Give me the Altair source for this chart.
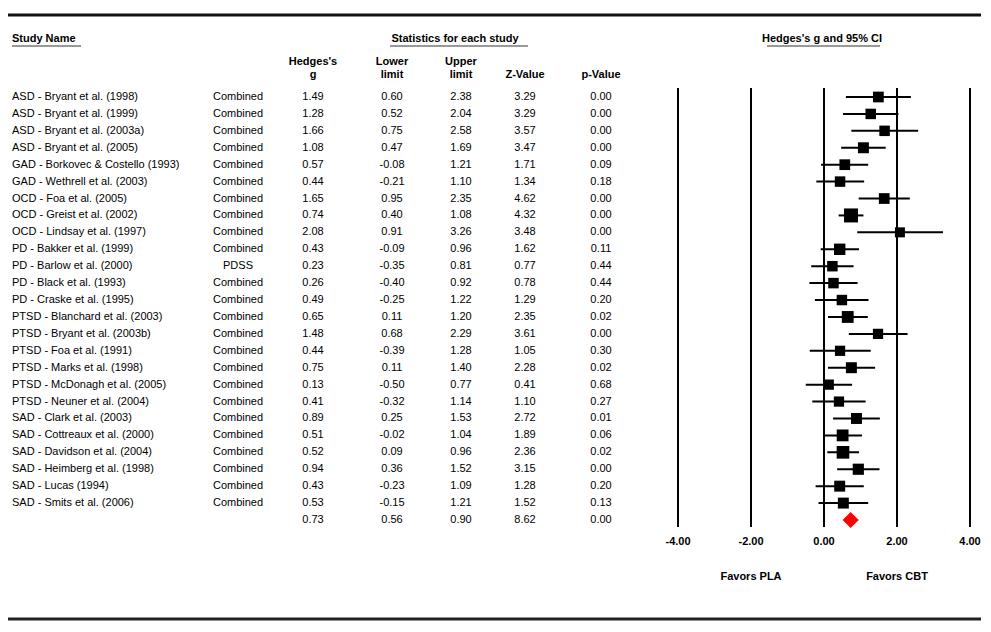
import altair as alt
import pandas as pd

studies = [
    "ASD - Bryant et al. (1998)",
    "ASD - Bryant et al. (1999)",
    "ASD - Bryant et al. (2003a)",
    "ASD - Bryant et al. (2005)",
    "GAD - Borkovec & Costello (1993)",
    "GAD - Wethrell et al. (2003)",
    "OCD - Foa et al. (2005)",
    "OCD - Greist et al. (2002)",
    "OCD - Lindsay et al. (1997)",
    "PD - Bakker et al. (1999)",
    "PD - Barlow et al. (2000)",
    "PD - Black et al. (1993)",
    "PD - Craske et al. (1995)",
    "PTSD - Blanchard et al. (2003)",
    "PTSD - Bryant et al. (2003b)",
    "PTSD - Foa et al. (1991)",
    "PTSD - Marks et al. (1998)",
    "PTSD - McDonagh et al. (2005)",
    "PTSD - Neuner et al. (2004)",
    "SAD - Clark et al. (2003)",
    "SAD - Cottreaux et al. (2000)",
    "SAD - Davidson et al. (2004)",
    "SAD - Heimberg et al. (1998)",
    "SAD - Lucas (1994)",
    "SAD - Smits et al. (2006)",
]
outcomes = ["Combined"] * 10 + ["PDSS"] + ["Combined"] * 14
hedges_g = [1.49, 1.28, 1.66, 1.08, 0.57, 0.44, 1.65, 0.74, 2.08, 0.43, 0.23, 0.26, 0.49,
            0.65, 1.48, 0.44, 0.75, 0.13, 0.41, 0.89, 0.51, 0.52, 0.94, 0.43, 0.53]
lower_limit = [0.60, 0.52, 0.75, 0.47, -0.08, -0.21, 0.95, 0.40, 0.91, -0.09, -0.35, -0.40, -0.25,
               0.11, 0.68, -0.39, 0.11, -0.50, -0.32, 0.25, -0.02, 0.09, 0.36, -0.23, -0.15]
upper_limit = [2.38, 2.04, 2.58, 1.69, 1.21, 1.10, 2.35, 1.08, 3.26, 0.96, 0.81, 0.92, 1.22,
               1.20, 2.29, 1.28, 1.40, 0.77, 1.14, 1.53, 1.04, 0.96, 1.52, 1.09, 1.21]
z_values = [3.29, 3.29, 3.57, 3.47, 1.71, 1.34, 4.62, 4.32, 3.48, 1.62, 0.77, 0.78, 1.29,
            2.35, 3.61, 1.05, 2.28, 0.41, 1.10, 2.72, 1.89, 2.36, 3.15, 1.28, 1.52]
p_values = [0.00, 0.00, 0.00, 0.00, 0.09, 0.18, 0.00, 0.00, 0.00, 0.11, 0.44, 0.44, 0.20,
            0.02, 0.00, 0.30, 0.02, 0.68, 0.27, 0.01, 0.06, 0.02, 0.00, 0.20, 0.13]
# relative study weights (drawn as square marker area)
weights = [115, 110, 110, 120, 115, 110, 115, 196, 100, 130, 110, 110, 110,
           140, 105, 105, 120, 105, 105, 120, 140, 160, 125, 120, 120]

summary_g = 0.73
summary_lower = 0.56
summary_upper = 0.90
summary_z = 8.62
summary_p = 0.00

axis_ticks = [-4, -2, 0, 2, 4]
axis_labels = ["-4.00", "-2.00", "0.00", "2.00", "4.00"]
favors_labels = ["Favors PLA", "Favors CBT"]
favors_pos = [-2, 2]

FONT = "Liberation Sans Narrow, Liberation Sans, Arial"
FS = 11

fmt = lambda vals: [f"{v:.2f}" for v in vals]

rows = list(range(len(studies)))
df = pd.DataFrame({
    "row": rows + [len(studies)],
    "study": studies + [""],
    "outcome": outcomes + [""],
    "g": fmt(hedges_g + [summary_g]),
    "lower": fmt(lower_limit + [summary_lower]),
    "upper": fmt(upper_limit + [summary_upper]),
    "z": fmt(z_values + [summary_z]),
    "p": fmt(p_values + [summary_p]),
})
df_st = pd.DataFrame({
    "row": rows, "g": hedges_g, "lower": lower_limit, "upper": upper_limit, "w": weights,
})
df_sum = pd.DataFrame({"row": [len(studies)], "g": [summary_g]})
df_ticks = pd.DataFrame({"t": axis_ticks, "label": axis_labels})
df_fav = pd.DataFrame({"t": favors_pos, "label": favors_labels})

yscale = alt.Scale(domain=[0, len(studies)], range=[89, 512], nice=False, zero=False)
xscale = alt.Scale(domain=[-4, 4], range=[670, 962], nice=False, zero=False)
Y = alt.Y("row:Q", scale=yscale, axis=None)

base = alt.Chart(df)

def col_text(field, xpx, align="center"):
    return base.mark_text(align=align, baseline="middle", font=FONT, fontSize=FS, color="black").encode(
        x=alt.value(xpx), y=Y, text=alt.Text(f"{field}:N"))

layers = [
    col_text("study", 4, align="left"),
    col_text("outcome", 230),
    col_text("g", 305),
    col_text("lower", 384),
    col_text("upper", 453),
    col_text("z", 517),
    col_text("p", 593),
]

one = alt.Data(values=[{}])

def htext(txt, xpx, ypx, align="center", bold=True):
    return alt.Chart(one).mark_text(text=txt, align=align, baseline="middle", font=FONT, fontSize=FS,
                                    fontWeight="bold" if bold else "normal", color="black").encode(
        x=alt.value(xpx), y=alt.value(ypx))

def hrule(x1, x2, ypx, width, color):
    return alt.Chart(one).mark_rule(strokeWidth=width, color=color).encode(
        x=alt.value(x1), x2=alt.value(x2), y=alt.value(ypx))

layers += [
    hrule(0, 973, 7, 3, "#111111"),
    hrule(0, 973, 611, 3, "#222222"),
    htext("Study Name", 4, 31, align="left"),
    hrule(4, 73, 38, 2, "#999999"),
    htext("Statistics for each study", 447, 31),
    hrule(382, 520, 38, 2, "#999999"),
    htext("Hedges's g and 95% CI", 814, 31),
    hrule(759, 872, 38, 2, "#999999"),
    htext("Hedges's", 305, 54),
    htext("g", 305, 67),
    htext("Lower", 384, 54),
    htext("limit", 384, 67),
    htext("Upper", 453, 54),
    htext("limit", 453, 67),
    htext("Z-Value", 517, 67),
    htext("p-Value", 593, 67),
]

X = lambda f: alt.X(f, scale=xscale, axis=None)

vlines = alt.Chart(df_ticks).mark_rule(strokeWidth=2, color="black").encode(
    x=X("t:Q"), y=alt.value(80), y2=alt.value(519))
tick_text = alt.Chart(df_ticks).mark_text(font=FONT, fontSize=FS, fontWeight="bold", baseline="middle",
                                          color="black").encode(
    x=X("t:Q"), y=alt.value(534), text="label:N")
fav_text = alt.Chart(df_fav).mark_text(font=FONT, fontSize=FS, fontWeight="bold", baseline="middle",
                                       color="black").encode(
    x=X("t:Q"), y=alt.value(569), text="label:N")
ci = alt.Chart(df_st).mark_rule(strokeWidth=2, color="black").encode(
    x=X("lower:Q"), x2="upper:Q", y=Y)
squares = alt.Chart(df_st).mark_square(filled=True, opacity=1, color="black").encode(
    x=X("g:Q"), y=Y, size=alt.Size("w:Q", scale=None, legend=None))
diamond = alt.Chart(df_sum).mark_point(shape="diamond", filled=True, opacity=1, color="#ff0000",
                                        size=260).encode(x=X("g:Q"), y=Y)

layers += [vlines, tick_text, fav_text, ci, squares, diamond]

chart = alt.layer(*layers).properties(
    width=975, height=616, padding=0, autosize="none"
).configure_view(stroke=None)

chart.save("out.html", embed_options={"renderer": "svg", "actions": False})
